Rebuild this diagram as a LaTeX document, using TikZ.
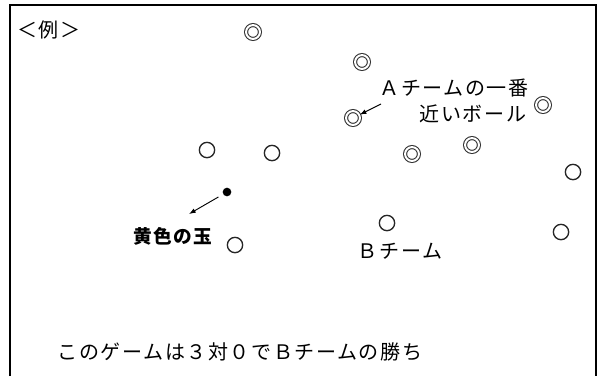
\documentclass[tikz,border=0pt]{standalone}
\usepackage{fontspec}
\newfontfamily\jp[LetterSpace=8]{Noto Sans CJK JP}
\usetikzlibrary{arrows.meta}

\tikzset{
	teamA/.style={circle,draw=black!80,line width=0.8pt,double,double distance=1.5pt,minimum size=10.4pt,inner sep=0pt},
	teamB/.style={circle,draw=black!85,line width=1pt,minimum size=11.5pt,inner sep=0pt},
	jack/.style={circle,fill=black,minimum size=6.5pt,inner sep=0pt},
	lbl/.style={inner sep=0pt,font=\jp\fontsize{15pt}{17pt}\selectfont},
	pointer/.style={-{Latex[length=5pt,width=3.6pt]},line width=0.7pt}
}

\begin{document}
\begin{tikzpicture}[x=0.75pt,y=-0.75pt]
	\useasboundingbox (0,0) rectangle (600,376);
	\draw [line width=1.4pt] (10,376) -- (10,5) -- (596,5) -- (596,376);
	
	\node (a1) [teamA] at (253,32) {};
	\node (a2) [teamA] at (362,62) {};
	\node (a3) [teamA] at (353,118) {};
	\node (a4) [teamA] at (543,105) {};
	\node (a5) [teamA] at (472,145) {};
	\node (a6) [teamA] at (412,154) {};
	
	\node (b1) [teamB] at (207,150) {};
	\node (b2) [teamB] at (272,153) {};
	\node (b3) [teamB] at (573,172) {};
	\node (b4) [teamB] at (235,245) {};
	\node (b5) [teamB] at (387,223) {};
	\node (b6) [teamB] at (561,232) {};
	
	\node (y) [jack] at (227,192) {};
	
	\node (ex) [lbl] at (49,30) {＜例＞};
	\node (nearA) [lbl] at (454,88) {Ａチームの一番};
	\node (nearB) [lbl] at (473,114) {近いボール};
	\node (yl) [lbl,font=\jp\bfseries\fontsize{14pt}{16pt}\selectfont] at (173,236) {黄色の玉};
	\node (tb) [lbl] at (400,251) {Ｂチーム};
	\node (res) [lbl] at (240,352) {このゲームは３対０でＢチームの勝ち};
	
	\coordinate (atail) at (381,104);
	\coordinate (yhead) at (189,214);
	\draw [pointer] (atail) -- (a3);
	\draw [pointer,shorten <=4pt] (y) -- (yhead);
\end{tikzpicture}
\end{document}
